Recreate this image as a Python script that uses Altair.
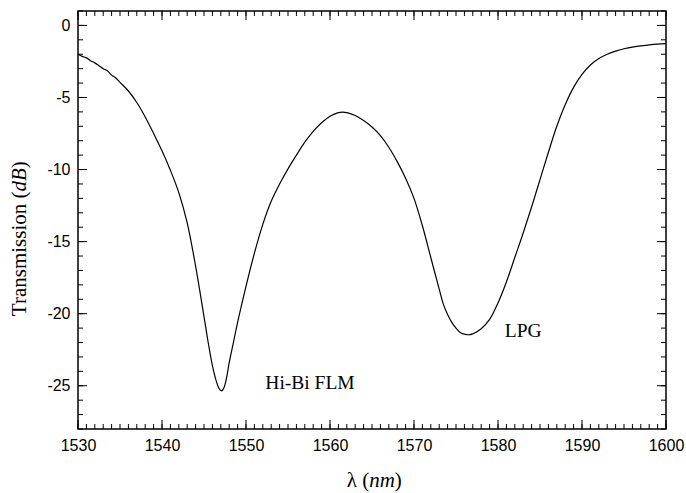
import altair as alt
import pandas as pd

# ---- data ----
wavelength = [1530.0, 1530.5, 1531.0, 1531.5, 1532.0, 1532.5, 1533.0, 1533.5, 1534.0, 1534.5,
              1535.0, 1536.0, 1537.0, 1538.0, 1539.0, 1540.0, 1541.0, 1542.0, 1543.0, 1544.0,
              1545.0, 1545.5, 1546.0, 1546.5, 1546.8, 1547.1, 1547.4, 1547.7, 1548.0, 1548.5,
              1549.0, 1550.0, 1551.0, 1552.0, 1553.0, 1554.0, 1555.0, 1556.0, 1557.0, 1558.0,
              1559.0, 1560.0, 1561.0, 1561.5, 1562.0, 1563.0, 1564.0, 1565.0, 1566.0, 1567.0,
              1568.0, 1569.0, 1570.0, 1571.0, 1572.0, 1573.0, 1573.5, 1574.0, 1574.5, 1575.0,
              1575.5, 1576.0, 1576.5, 1577.0, 1578.0, 1579.0, 1580.0, 1581.0, 1582.0, 1583.0,
              1584.0, 1585.0, 1586.0, 1587.0, 1588.0, 1589.0, 1590.0, 1591.0, 1592.0, 1593.0,
              1594.0, 1595.0, 1596.0, 1597.0, 1598.0, 1599.0, 1600.0]
transmission = [-2.00, -2.15, -2.25, -2.45, -2.60, -2.80, -3.00, -3.15, -3.45, -3.65,
                -3.95, -4.55, -5.35, -6.35, -7.50, -8.70, -10.05, -11.60, -13.70, -16.70,
                -20.20, -22.00, -23.60, -24.75, -25.20, -25.35, -25.10, -24.40, -23.40, -22.00,
                -20.60, -18.10, -15.80, -13.80, -12.20, -11.00, -9.95, -9.00, -8.10, -7.35,
                -6.75, -6.30, -6.05, -6.02, -6.05, -6.25, -6.60, -7.05, -7.65, -8.45,
                -9.45, -10.60, -12.00, -13.90, -16.10, -18.30, -19.35, -20.05, -20.60, -21.00,
                -21.30, -21.42, -21.46, -21.40, -21.05, -20.40, -19.25, -17.80, -16.10, -14.40,
                -12.60, -10.70, -8.80, -7.00, -5.50, -4.30, -3.40, -2.75, -2.30, -2.00,
                -1.78, -1.62, -1.50, -1.42, -1.35, -1.30, -1.27]

x_major = [1530, 1540, 1550, 1560, 1570, 1580, 1590, 1600]
x_minor = list(range(1530, 1601))
y_major = [-25, -20, -15, -10, -5, 0]
y_minor = list(range(-28, 2))

ann_text = ["Hi-Bi FLM", "LPG"]
ann_x = [1552.3, 1580.8]
ann_y = [-25.2, -21.6]

X_DOMAIN = [1530, 1600]
Y_DOMAIN = [-28, 1]
W, H = 588, 418
SERIF = "Liberation Serif"
SANS = "Liberation Sans"

xs = alt.Scale(domain=X_DOMAIN, nice=False, zero=False)
ys = alt.Scale(domain=Y_DOMAIN, nice=False, zero=False)
x_axis = alt.Axis(values=x_major, ticks=False, domain=False, grid=False,
                  labelFont=SANS, labelFontSize=16, labelColor="black",
                  labelPadding=8, title=None, labelFlush=False, labelExpr="datum.value + ''")
y_axis = alt.Axis(values=y_major, ticks=False, domain=False, grid=False,
                  labelFont=SANS, labelFontSize=16, labelColor="black",
                  labelPadding=8, title=None, labelExpr="datum.value + ''")

df = pd.DataFrame({"wl": wavelength, "t": transmission})

line = alt.Chart(df).mark_line(color="black", strokeWidth=1.2, interpolate="catmull-rom").encode(
    x=alt.X("wl:Q", scale=xs, axis=x_axis),
    y=alt.Y("t:Q", scale=ys, axis=y_axis),
)

def xticks(vals, length):
    d = pd.DataFrame({"v": vals})
    bot = alt.Chart(d).mark_rule(color="black", strokeWidth=1).encode(
        x=alt.X("v:Q", scale=xs, axis=x_axis), y=alt.value(H), y2=alt.value(H - length))
    top = alt.Chart(d).mark_rule(color="black", strokeWidth=1).encode(
        x=alt.X("v:Q", scale=xs, axis=x_axis), y=alt.value(0), y2=alt.value(length))
    return [bot, top]

def yticks(vals, length):
    d = pd.DataFrame({"v": vals})
    left = alt.Chart(d).mark_rule(color="black", strokeWidth=1).encode(
        y=alt.Y("v:Q", scale=ys, axis=y_axis), x=alt.value(0), x2=alt.value(length))
    right = alt.Chart(d).mark_rule(color="black", strokeWidth=1).encode(
        y=alt.Y("v:Q", scale=ys, axis=y_axis), x=alt.value(W), x2=alt.value(W - length))
    return [left, right]

ann = alt.Chart(pd.DataFrame({"x": ann_x, "y": ann_y, "s": ann_text})).mark_text(
    font=SERIF, fontSize=19.5, align="left", baseline="alphabetic", color="black").encode(
    x=alt.X("x:Q", scale=xs, axis=x_axis), y=alt.Y("y:Q", scale=ys, axis=y_axis), text="s:N")

# axis titles with mixed italic pieces
TFS = 21
def title_piece(text, style, align, xv, yv, angle=0):
    return alt.Chart(pd.DataFrame({"s": [text]})).mark_text(
        font=SERIF, fontSize=TFS, fontStyle=style, align=align, baseline="middle",
        angle=angle, color="black").encode(x=alt.value(xv), y=alt.value(yv), text="s:N")

nm_w = 1.222 * TFS
xc = W / 2 + 8 - nm_w / 2 + 2
xt_y = 470
x_title = [
    title_piece("λ (", "normal", "right", xc, xt_y),
    title_piece("nm", "italic", "left", xc, xt_y),
    title_piece(")", "normal", "left", xc + nm_w, xt_y),
]
yt_x = -58
ycenter = 228
total = 7.416 * TFS
start = ycenter + total / 2
yc = start - 5.972 * TFS
db_w = 1.111 * TFS
y_title = [
    title_piece("Transmission (", "normal", "right", yt_x, yc, 270),
    title_piece("dB", "italic", "left", yt_x, yc, 270),
    title_piece(")", "normal", "left", yt_x, yc - db_w, 270),
]

layers = [line] + xticks(x_minor, 5) + xticks(x_major, 9) + yticks(y_minor, 5) + yticks(y_major, 9) \
    + [ann] + x_title + y_title

chart = alt.layer(*layers).properties(
    width=W, height=H,
    autosize=alt.AutoSizeParams(type="none"),
    padding={"left": 78, "top": 11, "right": 20, "bottom": 64},
    background="white",
).configure_view(stroke="black", strokeWidth=1.5)

chart.save("out.html", embed_options={"renderer": "svg", "actions": False})
